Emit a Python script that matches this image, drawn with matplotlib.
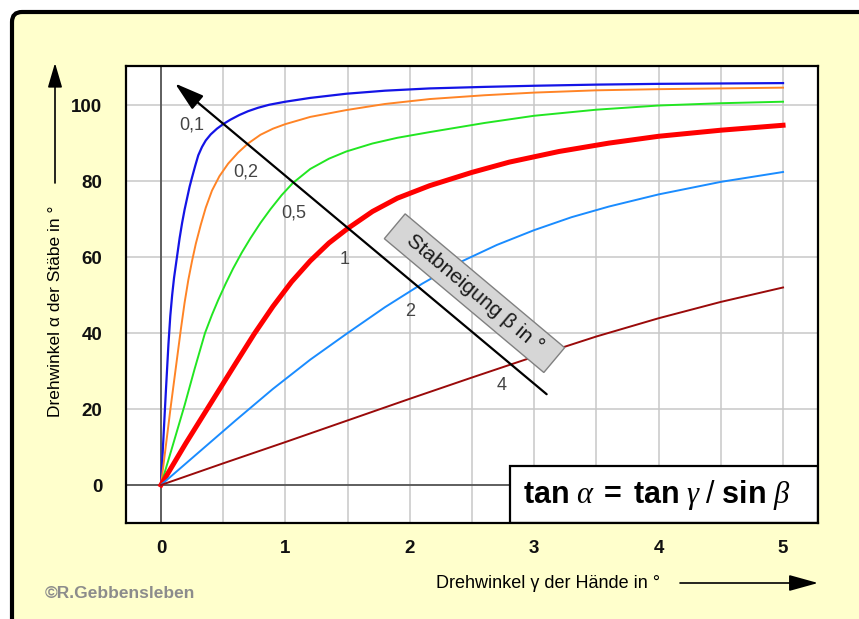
import matplotlib
matplotlib.use("Agg")
import matplotlib.pyplot as plt
from matplotlib.patches import FancyBboxPatch, FancyArrowPatch, Rectangle
from matplotlib.transforms import IdentityTransform

plt.rcParams['font.family'] = ['Liberation Sans', 'DejaVu Sans']
plt.rcParams['mathtext.fontset'] = 'custom'
plt.rcParams['mathtext.rm'] = 'Liberation Sans:bold'
plt.rcParams['mathtext.bf'] = 'Liberation Sans:bold'
plt.rcParams['mathtext.sf'] = 'Liberation Sans'
plt.rcParams['mathtext.it'] = 'Liberation Serif:italic'

# Kurven fuer die Stabneigung beta
beta_labels = ['0,1', '0,2', '0,5', '1', '2', '4']

gamma_01 = [0, 0.02, 0.04, 0.06, 0.075, 0.09, 0.105, 0.12, 0.135, 0.15,
            0.17, 0.19, 0.21, 0.23, 0.25, 0.275, 0.30, 0.33, 0.36, 0.40,
            0.45, 0.50, 0.56, 0.63, 0.70, 0.78, 0.87, 1.0, 1.2, 1.49,
            1.8, 2.16, 2.6, 3.0, 3.5, 4.0, 4.5, 5.0]
alpha_01 = [0, 12.5, 25, 37, 44.5, 50, 54.5, 58, 61.5, 65,
            69, 72.5, 75.5, 78.5, 81, 84, 86.8, 89, 90.7, 92.3,
            93.8, 95, 96.2, 97.4, 98.4, 99.3, 100.1, 100.9, 101.9, 103,
            103.8, 104.4, 104.8, 105.1, 105.4, 105.6, 105.7, 105.8]

gamma_02 = [0, 0.04, 0.08, 0.12, 0.16, 0.19, 0.22, 0.25, 0.28, 0.32,
            0.36, 0.41, 0.47, 0.54, 0.62, 0.70, 0.80, 0.90, 1.0, 1.2,
            1.49, 1.8, 2.16, 2.6, 3.0, 3.5, 4.0, 4.5, 5.0]
alpha_02 = [0, 10.5, 21, 31, 41, 48, 54, 59, 63.5, 68.5,
            73, 77.5, 81.3, 84.6, 87.5, 89.9, 92.2, 93.8, 95, 96.9,
            98.7, 100.3, 101.6, 102.6, 103.3, 103.9, 104.2, 104.4, 104.6]

gamma_05 = [0, 0.1, 0.19, 0.27, 0.354, 0.41, 0.46, 0.52, 0.58, 0.65,
            0.72, 0.80, 0.88, 0.97, 1.06, 1.2, 1.35, 1.49, 1.7, 1.9,
            2.16, 2.6, 3.0, 3.5, 4.0, 4.5, 5.0]
alpha_05 = [0, 11, 21, 30.5, 40, 44.8, 48.7, 53, 57, 61.2,
            65, 69, 72.6, 76.3, 79.5, 83.2, 85.9, 87.8, 89.9, 91.4,
            92.9, 95.3, 97.2, 98.8, 99.9, 100.5, 100.9]

gamma_1 = [0, 0.2, 0.4, 0.6, 0.75, 0.9, 1.05, 1.2, 1.35, 1.5,
           1.7, 1.9, 2.16, 2.5, 2.8, 3.2, 3.6, 4.0, 4.5, 5.0]
alpha_1 = [0, 11, 21.5, 32, 39.8, 47, 53.5, 59, 63.7, 67.5,
           72, 75.5, 78.8, 82.3, 85, 87.8, 90, 91.8, 93.4, 94.7]

gamma_2 = [0, 0.3, 0.6, 0.9, 1.2, 1.5, 1.8, 2.1, 2.4, 2.7,
           3.0, 3.3, 3.6, 4.0, 4.5, 5.0]
alpha_2 = [0, 8.5, 17, 25.3, 33, 40, 46.8, 53, 58.6, 63.2,
           67.1, 70.5, 73.3, 76.5, 79.8, 82.4]

gamma_4 = [0, 0.5, 1.0, 1.5, 2.0, 2.5, 3.0, 3.5, 4.0, 4.5, 5.0]
alpha_4 = [0, 5.7, 11.3, 17, 22.7, 28.3, 33.8, 39.1, 43.9, 48.2, 52]

kurven = [(gamma_01, alpha_01, '#1414E6', 1.6),
          (gamma_02, alpha_02, '#FF8426', 1.4),
          (gamma_05, alpha_05, '#22E622', 1.4),
          (gamma_1, alpha_1, '#FF0000', 3.6),
          (gamma_2, alpha_2, '#1A8CFF', 1.4),
          (gamma_4, alpha_4, '#9A0A0A', 1.4)]

# Lage der Beschriftungen (gamma, alpha)
label_pos = [(0.249, 94.7), (0.681, 82.4), (1.069, 71.5),
             (1.479, 59.4), (2.0, 45.6), (2.74, 26.3)]

x_ticks = [0, 1, 2, 3, 4, 5]
y_ticks = [0, 20, 40, 60, 80, 100]

W, H = 859, 619


def fx(px):
    return px / W


def fy(py):
    return 1 - py / H


fig = plt.figure(figsize=(W / 100, H / 100), dpi=100, facecolor='white')

rahmen = FancyBboxPatch((12, -100), 1000, H - 12 + 100,
                        boxstyle='round,pad=0,rounding_size=10',
                        fc='#FFFFCC', ec='black', lw=3,
                        transform=IdentityTransform(), zorder=-1)
fig.add_artist(rahmen)

ax = fig.add_axes([fx(126), fy(523), (818 - 126) / W, (523 - 66) / H])
ax.set_facecolor('white')
ax.set_xlim(-0.281, 5.281)
ax.set_ylim(-10, 110.3)

ax.set_xticks(x_ticks)
ax.set_xticks([0.5, 1.5, 2.5, 3.5, 4.5], minor=True)
ax.set_yticks(y_ticks)
ax.grid(True, which='both', color='#C8C8C8', lw=1.1, zorder=0)
ax.set_axisbelow(True)
ax.axhline(0, color='#404040', lw=1.1, zorder=1)
ax.axvline(0, color='#404040', lw=1.1, zorder=1)

ax.tick_params(which='both', length=0)
ax.tick_params(axis='x', pad=12.5, labelsize=13.5)
ax.tick_params(axis='y', pad=17, labelsize=13.5)
for lab in ax.get_xticklabels() + ax.get_yticklabels():
    lab.set_fontweight('bold')
    lab.set_color('#111111')
for sp in ax.spines.values():
    sp.set_linewidth(1.6)
    sp.set_color('black')
    sp.set_zorder(10)

for g, a, c, lw in kurven:
    ax.plot(g, a, color=c, lw=lw, zorder=3, solid_joinstyle='round')

for (gx, ay), txt in zip(label_pos, beta_labels):
    ax.text(gx, ay, txt, ha='center', va='center', fontsize=13,
            color='#444444', zorder=4)

# Pfeil fuer die Stabneigung
ax.add_patch(FancyArrowPatch((3.1, 23.9), (0.113, 105.7),
                             arrowstyle='-|>,head_length=0.9,head_width=0.27',
                             mutation_scale=20, lw=1.6, color='black',
                             shrinkA=0, shrinkB=0, zorder=4))

ax.text(2.52, 50.5, '  Stabneigung β in °  ', rotation=-40,
        rotation_mode='anchor', ha='center', va='center', fontsize=15,
        color='#1A1A1A', zorder=6,
        bbox=dict(boxstyle='square,pad=0.32', fc='#D6D6D6', ec='#808080', lw=1))

# Formelkasten
ax.add_patch(Rectangle((2.805, -10), 5.281 - 2.805, 15, fc='white',
                       ec='black', lw=1.6, zorder=5))
ax.text(3.98, -2.5,
        r'$\mathrm{tan}\ \alpha\ =\ \mathrm{tan}\ \gamma\ \mathsf{/}\ \mathrm{sin}\ \beta$',
        ha='center', va='center', fontsize=22, zorder=6)

# Achsentitel mit Pfeilen
fig.text(fx(55), fy(311), 'Drehwinkel α der Stäbe in °', rotation=90,
         ha='center', va='center', fontsize=12.5)
fig.add_artist(FancyArrowPatch((fx(55), fy(183)), (fx(55), fy(63)),
                               arrowstyle='-|>,head_length=0.75,head_width=0.22',
                               mutation_scale=20, lw=1.2, color='black',
                               shrinkA=0, shrinkB=0,
                               transform=fig.transFigure))
fig.text(fx(548), fy(583), 'Drehwinkel γ der Hände in °',
         ha='center', va='center', fontsize=13)
fig.add_artist(FancyArrowPatch((fx(680), fy(583)), (fx(818), fy(583)),
                               arrowstyle='-|>,head_length=0.9,head_width=0.25',
                               mutation_scale=20, lw=1.2, color='black',
                               shrinkA=0, shrinkB=0,
                               transform=fig.transFigure))

fig.text(fx(45), fy(593), '©R.Gebbensleben', ha='left', va='center',
         fontsize=12.5, fontweight='bold', color='#8C8C8C')

fig.savefig('out.png', dpi=100, facecolor=fig.get_facecolor())
